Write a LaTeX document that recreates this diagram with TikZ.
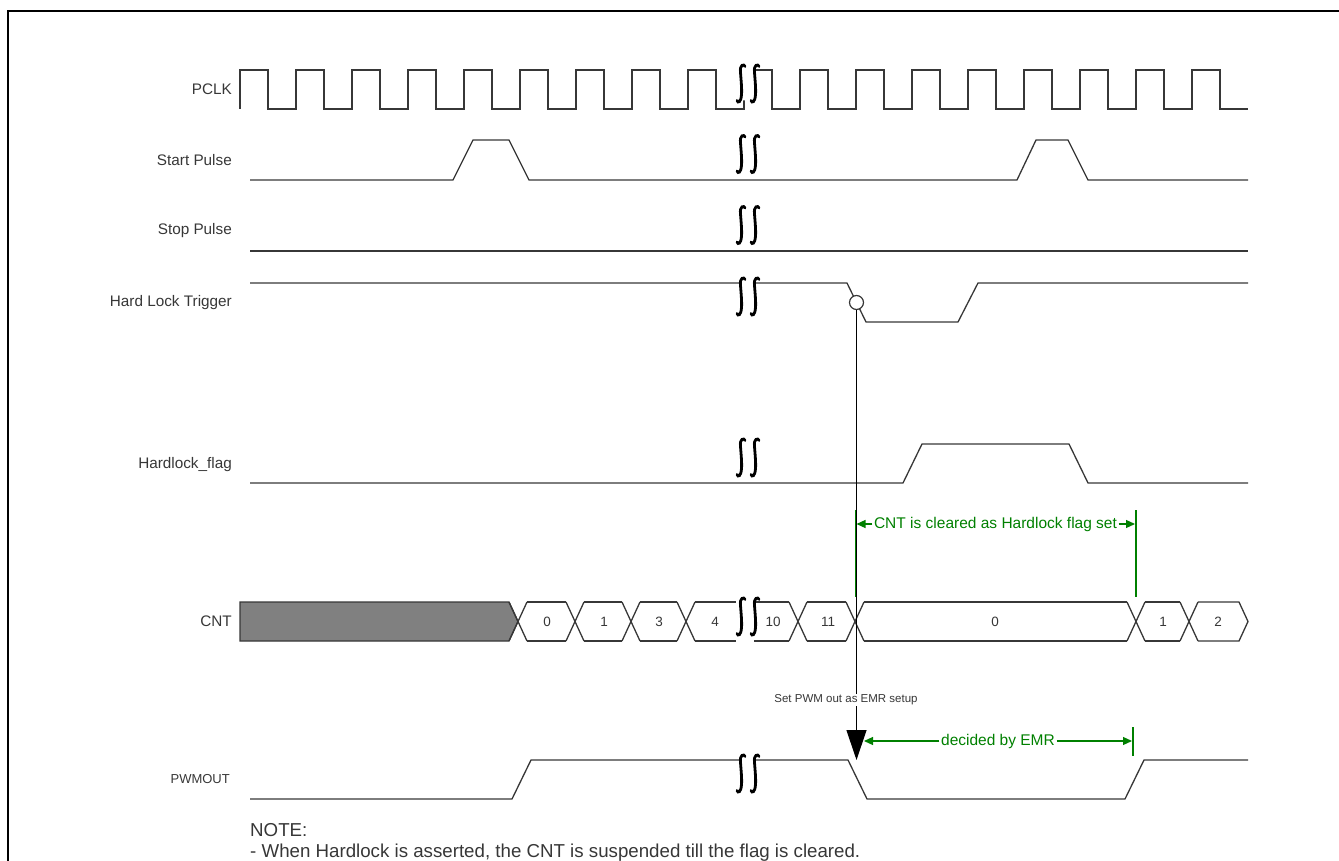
\documentclass[tikz,border=0pt]{standalone}
\usepackage{fontspec}
\setmainfont{Liberation Sans}
\usetikzlibrary{arrows.meta}
\definecolor{sig}{RGB}{55,55,55}
\definecolor{ann}{RGB}{0,128,0}
\definecolor{busgray}{RGB}{128,128,128}
\tikzset{
  sigline/.style={draw=sig, line width=1.3pt, line join=miter},
  lab/.style={anchor=east, text=sig, inner sep=0pt, font=\fontsize{15.3}{18}\selectfont},
  celllab/.style={text=sig, inner sep=0pt, font=\fontsize{13.5}{16}\selectfont},
  brkline/.style={line width=2.8pt, line cap=round, draw=black},
  annline/.style={draw=ann, line width=1.2pt},
  annarrow/.style={draw=ann, line width=1.2pt, -{Triangle[length=9pt,width=8pt]}},
  annlab/.style={text=ann, inner sep=1.5pt, font=\fontsize{15.5}{18}\selectfont},
  notetext/.style={anchor=west, text=sig, inner sep=0pt, font=\fontsize{18.7}{22}\selectfont}
}
\newcommand\breakmark[1]{%
  \begin{scope}[shift={#1}]
    \fill[white] (-3,-17) .. controls (-4,-20) and (-8.5,-19) .. (-7.5,-11) .. controls (-7,-4) and (-6,6) .. (-6.5,11) .. controls (-7,19) and (-10,20) .. (-11,17)
      -- (3,17) .. controls (4,20) and (7,19) .. (7.5,11) .. controls (8,6) and (7,-4) .. (6.5,-11) .. controls (5.5,-19) and (10,-20) .. (11,-17) -- cycle;
    \draw[brkline] (-3,-17) .. controls (-4,-20) and (-8.5,-19) .. (-7.5,-11) .. controls (-7,-4) and (-6,6) .. (-6.5,11) .. controls (-7,19) and (-10,20) .. (-11,17);
    \draw[brkline] (11,-17) .. controls (10,-20) and (5.5,-19) .. (6.5,-11) .. controls (7,-4) and (8,6) .. (7.5,11) .. controls (7,19) and (4,20) .. (3,17);
  \end{scope}}
\begin{document}
\begin{tikzpicture}[x=1pt,y=-1pt]
\useasboundingbox (0,0) rectangle (1339,861);
\clip (0,0) rectangle (1339,861);
% frame
\draw[line width=2pt, black] (8,11) rectangle (1370,900);

% labels
\node[lab] (lpclk) at (232,89.5) {PCLK};
\node[lab] (lstart) at (232,160) {Start Pulse};
\node[lab] (lstop) at (232,231) {Stop Pulse};
\node[lab] (lhlt) at (232,302.5) {Hard Lock Trigger};
\node[lab] (lflag) at (232,464.5) {Hardlock\_flag};
\node[lab] (lcnt) at (232,621.5) {CNT};
\node[lab, font=\fontsize{13}{16}\selectfont] (lpwm) at (230,779.5) {PWMOUT};

% PCLK
\draw[sigline] (240,109) \foreach \k in {0,...,17} { -- ({240+56*\k},109) -- ({240+56*\k},70) -- ({268+56*\k},70) -- ({268+56*\k},109) } -- (1248,109);
% Start pulse
\draw[sigline] (250,180) -- (453,180) -- (473,140) -- (509,140) -- (529,180) -- (1017,180) -- (1036,140) -- (1068,140) -- (1088,180) -- (1248,180);
% Stop pulse
\draw[sigline] (250,251) -- (1248,251);
% Hard lock trigger
\draw[sigline] (250,283) -- (847,283) -- (866,322) -- (958,322) -- (978,283) -- (1248,283);
% Hardlock flag
\draw[sigline] (250,483) -- (903,483) -- (922,444) -- (1069,444) -- (1088,483) -- (1248,483);
% PWMOUT
\draw[sigline] (250,799) -- (512,799) -- (531,760) -- (848,760) -- (867,799) -- (1125,799) -- (1144,760) -- (1248,760);

% CNT bus
\filldraw[fill=busgray, draw=sig, line width=1.3pt] (240,602) -- (509,602) -- (518,621.5) -- (509,641) -- (240,641) -- cycle;
\foreach \c in {518,575,631,686,798,855,1136,1189} {
  \draw[sigline] ({\c-9},602) -- ({\c+9},641);
  \draw[sigline] ({\c-9},641) -- ({\c+9},602);
}
\foreach \a/\b in {527/566,584/622,640/677,807/846,864/1127,1145/1180} {
  \draw[sigline] (\a,602) -- (\b,602);
  \draw[sigline] (\a,641) -- (\b,641);
}
\draw[sigline] (695,602) -- (736,602);
\draw[sigline] (695,641) -- (736,641);
\draw[sigline] (754,602) -- (789,602);
\draw[sigline] (754,641) -- (789,641);
\draw[sigline] (1198,602) -- (1239,602) -- (1248,621.5) -- (1239,641) -- (1198,641);
\node[celllab] (c0) at (547,621.5) {0};
\node[celllab] (c1) at (604,621.5) {1};
\node[celllab] (c3) at (659,621.5) {3};
\node[celllab] (c4) at (715,621.5) {4};
\node[celllab] (c10) at (773,621.5) {10};
\node[celllab] (c11) at (828,621.5) {11};
\node[celllab] (c0b) at (995,621.5) {0};
\node[celllab] (c1b) at (1163,621.5) {1};
\node[celllab] (c2b) at (1218,621.5) {2};

% breaks
\breakmark{(748,83.5)}
\breakmark{(748,154)}
\breakmark{(748,225)}
\breakmark{(748,296.5)}
\breakmark{(748,457.5)}
\breakmark{(748,616.5)}
\breakmark{(748,773.5)}

% green annotation: CNT cleared
\draw[annline] (855.5,510) -- (855.5,597);
\draw[annline] (1136,510) -- (1136,597);
\node[annlab] (cntnote) at (995.5,524) {CNT is cleared as Hardlock flag set};
\draw[annarrow] (cntnote.west) -- (856.5,524);
\draw[annarrow] (cntnote.east) -- (1135,524);

% trigger arrow
\coordinate (pwmtip) at (856.5,760);
\node[circle, draw=sig, fill=white, line width=1.2pt, minimum size=14pt, inner sep=0pt] (trig) at (856.5,302.5) {};
\draw[black, line width=1.2pt, -{Triangle[length=30pt,width=20pt]}] (trig.south) -- (pwmtip);
\node[fill=white, text=sig, inner sep=1pt, font=\fontsize{11.5}{14}\selectfont] (setpwm) at (846,700) {Set PWM out as EMR setup};

% green annotation: decided by EMR
\draw[annline] (1133,727) -- (1133,756);
\node[annlab] (emr) at (998,741) {decided by EMR};
\draw[annarrow] (emr.west) -- (864,741);
\draw[annarrow] (emr.east) -- (1132,741);

% note
\node[notetext] (note1) at (250,830) {NOTE:};
\node[notetext] (note2) at (250,853) {- When Hardlock is asserted, the CNT is suspended till the flag is cleared.};
\end{tikzpicture}
\end{document}
